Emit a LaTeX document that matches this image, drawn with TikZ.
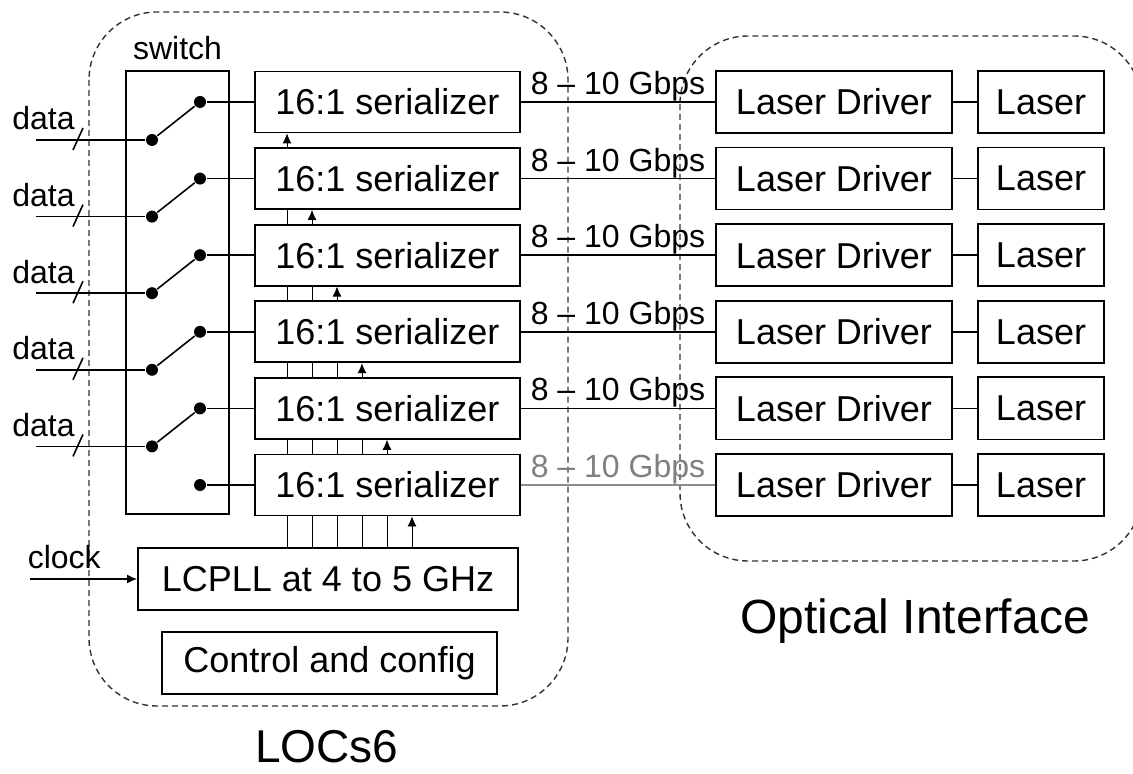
\documentclass[tikz,border=0pt]{standalone}
\usepackage{fontspec}
\setmainfont{Liberation Sans}
\usetikzlibrary{arrows.meta,backgrounds}
\begin{document}
\begin{tikzpicture}[x=0.5pt, y=-0.5pt, >={Latex[length=5pt,width=4.5pt]}, line width=0.8pt,
        every node/.style={inner sep=0pt, font=\fontsize{16}{18}\selectfont},
        blk/.style={draw, line width=0.9pt, fill=white, font=\fontsize{18}{20}\selectfont},
        dot/.style={circle, fill, minimum size=6pt},
        region/.style={draw=black!80, dash pattern=on 3pt off 2pt, rounded corners=34pt, line width=0.7pt}]
    \useasboundingbox (0,0) rectangle (1133,774);
    % dashed groups
    \draw[region] (89,12) rectangle (568,706);
    \draw[region] (680,36) rectangle (1142,561);
    \node[font=\fontsize{23}{25}\selectfont, anchor=base] (loc) at (327,762) {LOCs6};
    \node[font=\fontsize{24}{26}\selectfont, anchor=base] (opt) at (915,633) {Optical Interface};
    % switch
    \node[draw, line width=0.9pt, minimum width=51.5pt, minimum height=221.5pt] (SW) at (177.5,292.5) {};
    \node[above=4.5pt] (swl) at (SW.north) {switch};
    % rows
    \foreach \i in {1,...,6}{
        \pgfmathsetmacro\y{102+76.6*(\i-1)}
        \node[blk, minimum width=132.5pt, minimum height=30.5pt] (S\i) at (387.5,\y) {16:1 serializer};
        \node[blk, minimum width=118pt, minimum height=31pt] (D\i) at (834,\y) {Laser Driver};
        \node[blk, minimum width=63pt, minimum height=31pt] (L\i) at (1041,\y) {Laser};
        \draw (D\i) -- (L\i);
        \node[dot] (u\i) at (200,\y) {};
        \draw (u\i) -- (S\i);
    }
    \foreach \i in {1,...,5}{
        \pgfmathsetmacro\y{102+76.6*(\i-1)}
        \draw (S\i) -- node[above=0pt] (g\i) {8 – 10 Gbps} (D\i);
        \node[dot] (d\i) at (152,\y+38) {};
        \coordinate (in\i) at (36,\y+38);
        \draw (in\i) -- (d\i);
        \draw (d\i) -- (u\i);
        \draw ([shift={(37,10)}]in\i) -- ++(10,-22);
        \node[anchor=south] (dl\i) at (43.5,\y+29) {data};
    }
    \draw[black!45] (S6) -- node[above=0pt, text=black!50] (g6) {8 – 10 Gbps} (D6);
    % clock
    \node[blk, minimum width=190pt, minimum height=31pt] (PLL) at (328,579) {LCPLL at 4 to 5 GHz};
    \node[blk, minimum width=167.5pt, minimum height=31pt] (CTRL) at (329.5,663) {Control and config};
    \coordinate (clk) at (30,579);
    \draw[->] (clk) -- (PLL);
    \node[anchor=south west] (clkl) at (27,570) {clock};
    \begin{scope}[on background layer]
        \foreach \k in {1,...,6}{
            \coordinate (c\k) at ({262+25*\k},0);
            \draw[->] (PLL.north -| c\k) -- (S\k.south -| c\k);
        }
    \end{scope}
\end{tikzpicture}
\end{document}
